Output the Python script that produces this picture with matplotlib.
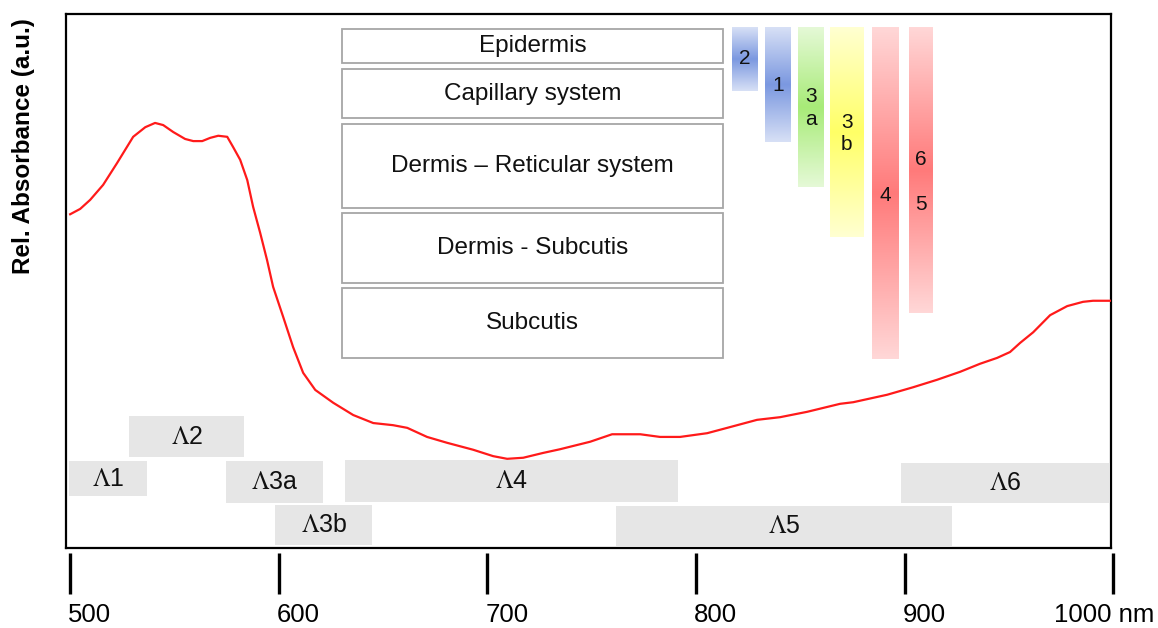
import numpy as np
import matplotlib
matplotlib.use("Agg")
import matplotlib.pyplot as plt
from matplotlib.patches import Rectangle
from matplotlib.colors import to_rgb

plt.rcParams['font.family'] = ['Liberation Sans', 'DejaVu Sans']

# absorbance curve (wavelength nm, relative absorbance a.u.)
wavelength = [500, 504.8, 509.6, 515.8, 522.5, 530.2, 536.0, 540.7, 544.6, 549.4,
              555.1, 559.0, 563.3, 567.1, 571.0, 575.3, 578.1, 581.5, 584.9, 587.7,
              591.1, 594.4, 597.3, 602.1, 606.9, 611.7, 617.5, 626.1, 635.7, 645.3,
              654.8, 661.6, 671.1, 680.7, 693.2, 702.8, 709.5, 717.2, 726.7, 734.9,
              749.3, 759.8, 773.3, 782.8, 792.4, 805.4, 815.0, 829.3, 840.4, 853.3,
              869.1, 875.4, 891.7, 904.1, 915.6, 926.7, 936.2, 944.4, 950.6, 955.4,
              961.7, 969.8, 978.0, 985.6, 990.4, 998.6]
absorbance = [62.5, 63.5, 65.2, 68.0, 72.1, 77.0, 78.8, 79.6, 79.2, 77.9,
              76.6, 76.2, 76.2, 76.8, 77.2, 77.0, 75.1, 72.7, 68.9, 63.9,
              59.0, 53.9, 48.9, 43.3, 37.6, 32.8, 29.6, 27.2, 24.9, 23.4,
              23.0, 22.5, 20.8, 19.7, 18.4, 17.2, 16.7, 16.9, 17.8, 18.5,
              19.9, 21.3, 21.3, 20.8, 20.8, 21.5, 22.5, 24.0, 24.5, 25.5,
              27.0, 27.3, 28.7, 30.1, 31.5, 33.0, 34.5, 35.6, 36.7, 38.4,
              40.4, 43.6, 45.3, 46.1, 46.3, 46.3]

# skin layers
layer_names = ["Epidermis", "Capillary system", "Dermis \u2013 Reticular system",
               "Dermis - Subcutis", "Subcutis"]
layer_top = [97.2, 89.7, 79.4, 62.7, 48.7]
layer_bottom = [90.8, 80.5, 63.7, 49.6, 35.6]
layer_x = (630.4, 813.0)

# penetration bars
bar_labels = ["2", "1", "3\na", "3\nb", "4", "6\n\n5"]
bar_start = [817.4, 833.2, 849.0, 864.3, 884.5, 902.2]
bar_end = [829.8, 845.6, 861.0, 880.2, 897.4, 913.7]
bar_depth = [85.6, 76.0, 67.6, 58.2, 35.4, 44.0]
bar_colors = ["#7b98e0", "#7b98e0", "#a8eb78", "#ffff66", "#ff7a7a", "#ff7a7a"]
bar_label_y = [91.6, 86.7, 82.4, 77.6, 66.1, 68.5]
bar_top = 97.4

# wavelength ranges
range_labels = ["1", "2", "3a", "3b", "4", "5", "6"]
range_start = [499.5, 528.3, 574.8, 598.3, 631.8, 761.7, 898.4]
range_end = [536.9, 583.4, 621.3, 644.8, 791.5, 922.8, 998.1]
range_lo = [9.7, 17.0, 8.4, 0.6, 8.6, 0.4, 8.4]
range_hi = [16.3, 24.7, 16.3, 8.1, 16.5, 7.9, 15.9]

tick_values = [500, 600, 700, 800, 900, 1000]
tick_labels = ["500", "600", "700", "800", "900", "1000 nm"]

fig = plt.figure(figsize=(11.58, 6.28), dpi=100)
ax = fig.add_axes([66 / 1158, 80 / 628, 1045 / 1158, 534 / 628])
ax.set_xlim(498, 999)
ax.set_ylim(0, 100)
ax.set_xticks([])
ax.set_yticks([])
for s in ax.spines.values():
    s.set_linewidth(1.6)

# layer boxes
for name, top, bot in zip(layer_names, layer_top, layer_bottom):
    ax.add_patch(Rectangle((layer_x[0], bot), layer_x[1] - layer_x[0], top - bot,
                           facecolor='white', edgecolor='#a6a6a6', lw=1.3, zorder=2))
    ax.text((layer_x[0] + layer_x[1]) / 2, (top + bot) / 2, name, ha='center', va='center',
            fontsize=17.5, color='#111111', zorder=3)

# gradient bars
t = np.linspace(0, 1, 200)
w = 0.3 + 0.7 * (1 - np.abs(2 * t - 1))
for lab, x0, x1, d, c, ly in zip(bar_labels, bar_start, bar_end, bar_depth, bar_colors, bar_label_y):
    rgb = np.array(to_rgb(c))
    img = 1 - w[:, None] * (1 - rgb[None, :])
    ax.imshow(img[:, None, :], extent=(x0, x1, d, bar_top), aspect='auto',
              origin='upper', zorder=2, interpolation='bilinear')
    ax.text((x0 + x1) / 2, ly, lab, ha='center', va='center', fontsize=15,
            linespacing=1.25, color='#111111', zorder=3)

# wavelength range boxes
for lab, x0, x1, lo, hi in zip(range_labels, range_start, range_end, range_lo, range_hi):
    ax.add_patch(Rectangle((x0, lo), x1 - x0, hi - lo, facecolor='#e6e6e6',
                           edgecolor='none', zorder=1))
    ax.text((x0 + x1) / 2, (lo + hi) / 2, r"$\Lambda$" + lab, ha='center', va='center',
            fontsize=18, math_fontfamily='stix', color='#111111', zorder=3)

ax.plot(wavelength, absorbance, color='#ff1a1a', lw=1.6, zorder=4)

# detached tick marks below the frame
ax.vlines(tick_values, -0.9, -8.6, colors='black', lw=2.4, clip_on=False)
for v, lab in zip(tick_values, tick_labels):
    if v == 1000:
        ax.text(1020, -12.6, lab, ha='right', va='center', fontsize=18.5)
    else:
        ax.text(v - 1, -12.6, lab, ha='left', va='center', fontsize=18.5)

fig.text(24 / 1158, 1 - 146 / 628, "Rel. Absorbance (a.u.)", rotation=90,
         ha='center', va='center', fontsize=17.5, fontweight='bold')

fig.savefig("out.png", dpi=100)
